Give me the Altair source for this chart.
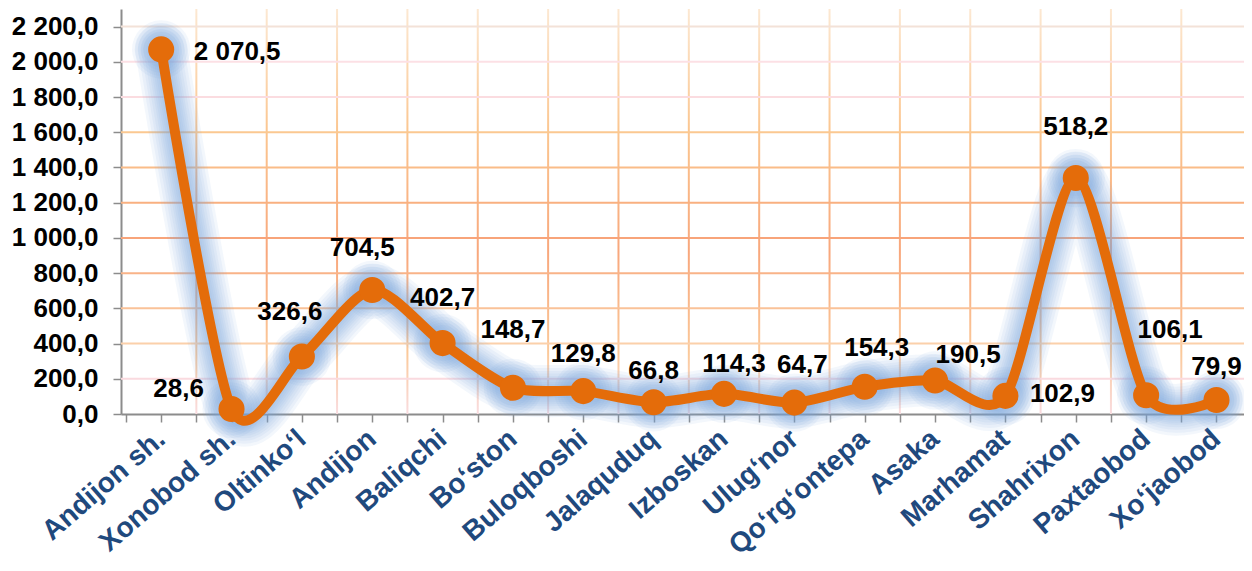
import json
import altair as alt
import pandas as pd

# ---------------- data ----------------
categories = ["Andijon sh.", "Xonobod sh.", "Oltinko‘l", "Andijon", "Baliqchi",
              "Bo‘ston", "Buloqboshi", "Jalaquduq", "Izboskan", "Ulug‘nor",
              "Qo‘rg‘ontepa", "Asaka", "Marhamat", "Shahrixon", "Paxtaobod",
              "Xo‘jaobod"]
plotted_values = [2070.5, 28.6, 326.6, 704.5, 402.7, 148.7, 129.8, 66.8, 114.3,
                  64.7, 154.3, 190.5, 102.9, 1340.0, 106.1, 79.9]
label_values = [2070.5, 28.6, 326.6, 704.5, 402.7, 148.7, 129.8, 66.8, 114.3,
                64.7, 154.3, 190.5, 102.9, 518.2, 106.1, 79.9]
y_ticks = [0, 200, 400, 600, 800, 1000, 1200, 1400, 1600, 1800, 2000, 2200]

# ---------------- style ----------------
ORANGE = "#E46C0A"
FONT = "Liberation Sans"
W, H = 1123, 405
X_MAX = 15.32
Y_MAX = 2300
TENSION = 0.2

# label offsets (dx, dy) in pixels, per category
label_offsets = {
    "Andijon sh.": (76, 3), "Xonobod sh.": (-53, -20), "Oltinko‘l": (-12, -44),
    "Andijon": (-10, -42), "Baliqchi": (0, -45), "Bo‘ston": (0, -58),
    "Buloqboshi": (0, -37), "Jalaquduq": (0, -31), "Izboskan": (10, -30),
    "Ulug‘nor": (8, -38), "Qo‘rg‘ontepa": (12, -39), "Asaka": (33, -25),
    "Marhamat": (57, -2), "Shahrixon": (0, -51), "Paxtaobod": (24, -65),
    "Xo‘jaobod": (0, -33),
}

df = pd.DataFrame({
    "idx": list(range(len(categories))),
    "cat": categories,
    "value": plotted_values,
    "label_value": label_values,
})
vgrid = pd.DataFrame({"pos": [i + 0.5 for i in range(len(categories) - 1)]})
hgrid = pd.DataFrame({"value": y_ticks[1:]})

xscale = alt.Scale(domain=[-0.5, X_MAX], nice=False, zero=False)
yscale = alt.Scale(domain=[0, Y_MAX], nice=False, zero=True)

cat_js = json.dumps(categories, ensure_ascii=False)
x_axis = alt.Axis(
    values=[k / 2 for k in range(-1, 2 * len(categories) - 1)],
    labelExpr=f"datum.value % 1 == 0 ? {cat_js}[datum.value] : ''",
    labelAngle=-41, labelAlign="right", labelBaseline="middle",
    labelPadding=13, labelFontSize=28, labelFontWeight="bold", labelLimit=400,
    labelColor="#1F497D", labelFont=FONT, labelOverlap=False, labelBound=False,
    tickSize=8, tickWidth=1.5, tickColor="#8C8C8C",
    domainColor="#8C8C8C", domainWidth=2, grid=False, title=None,
)
y_axis = alt.Axis(
    values=y_ticks,
    labelExpr="replace(replace(format(datum.value, ',.1f'), ',', ' '), '.', ',')",
    labelFontSize=26, labelFontWeight="bold", labelColor="black", labelFont=FONT,
    labelPadding=15, tickSize=8, tickWidth=1.5, tickColor="#8C8C8C",
    domainColor="#8C8C8C", domainWidth=2, grid=False, title=None,
)

def X(field):
    return alt.X(field, type="quantitative", scale=xscale, axis=x_axis)

def Y(field):
    return alt.Y(field, type="quantitative", scale=yscale, axis=y_axis)

# vertical gridlines (gradient)
vgrad = alt.Gradient(
    gradient="linear",
    stops=[alt.GradientStop(offset=0, color="#FCE8D2"),
           alt.GradientStop(offset=0.3, color="#FBC690"),
           alt.GradientStop(offset=0.6, color="#F8A77C"),
           alt.GradientStop(offset=0.85, color="#FBC99A"),
           alt.GradientStop(offset=1, color="#F9DCE0")],
    x1=0, x2=0, y1=0, y2=1,
)
vlines = alt.Chart(vgrid).mark_bar(size=2, color=vgrad, strokeWidth=0).encode(
    x=X("pos"),
    y=alt.Y(datum=Y_MAX, type="quantitative", scale=yscale, axis=y_axis),
    y2=alt.Y2(datum=0),
)

hlines = alt.Chart(hgrid).mark_rule(strokeWidth=2).encode(
    y=Y("value"),
    color=alt.Color("value:Q", legend=None, scale=alt.Scale(
        domain=[200, 400, 1000, 1600, 1800, 2000, 2200],
        range=["#FADADF", "#FBD0AA", "#F8A47A", "#FBC891", "#FBDCE0", "#FCE0E5", "#F3E2D8"],
    )),
)

base = alt.Chart(df).encode(x=X("idx"), y=Y("value"))

glows = [
    base.mark_line(interpolate="cardinal", tension=TENSION, strokeWidth=sw,
                   color="#7FA6DA", opacity=0.09, strokeCap="round", strokeJoin="round")
    for sw in [52, 46, 40, 35, 30, 26, 22, 18, 14]
]
glow_pts = [
    base.mark_circle(size=s, color="#7FA6DA", opacity=0.09)
    for s in [3400, 2800, 2200, 1700, 1300]
]

line = base.mark_line(
    interpolate="cardinal", tension=TENSION, strokeWidth=10, color=ORANGE,
    strokeCap="round", strokeJoin="round",
)
points = base.mark_circle(size=680, color=ORANGE, opacity=1)

label_layers = []
for name in categories:
    dx, dy = label_offsets[name]
    label_layers.append(
        base.transform_filter(alt.datum.cat == name)
        .transform_calculate(
            lbl="replace(replace(format(datum.label_value, ',.1f'), ',', ' '), '.', ',')")
        .mark_text(dx=dx, dy=dy, fontSize=26, fontWeight="bold", font=FONT,
                   color="black", align="center", baseline="middle")
        .encode(text="lbl:N")
    )

chart = alt.layer(
    vlines, hlines, *glows, *glow_pts, line, points, *label_layers
).properties(
    width=W, height=H,
    padding={"left": 113, "top": 1, "right": 0, "bottom": 148},
    autosize=alt.AutoSizeParams(type="none"),
).configure_view(stroke=None)

chart.save("out.html", embed_options={"renderer": "svg", "actions": False})
